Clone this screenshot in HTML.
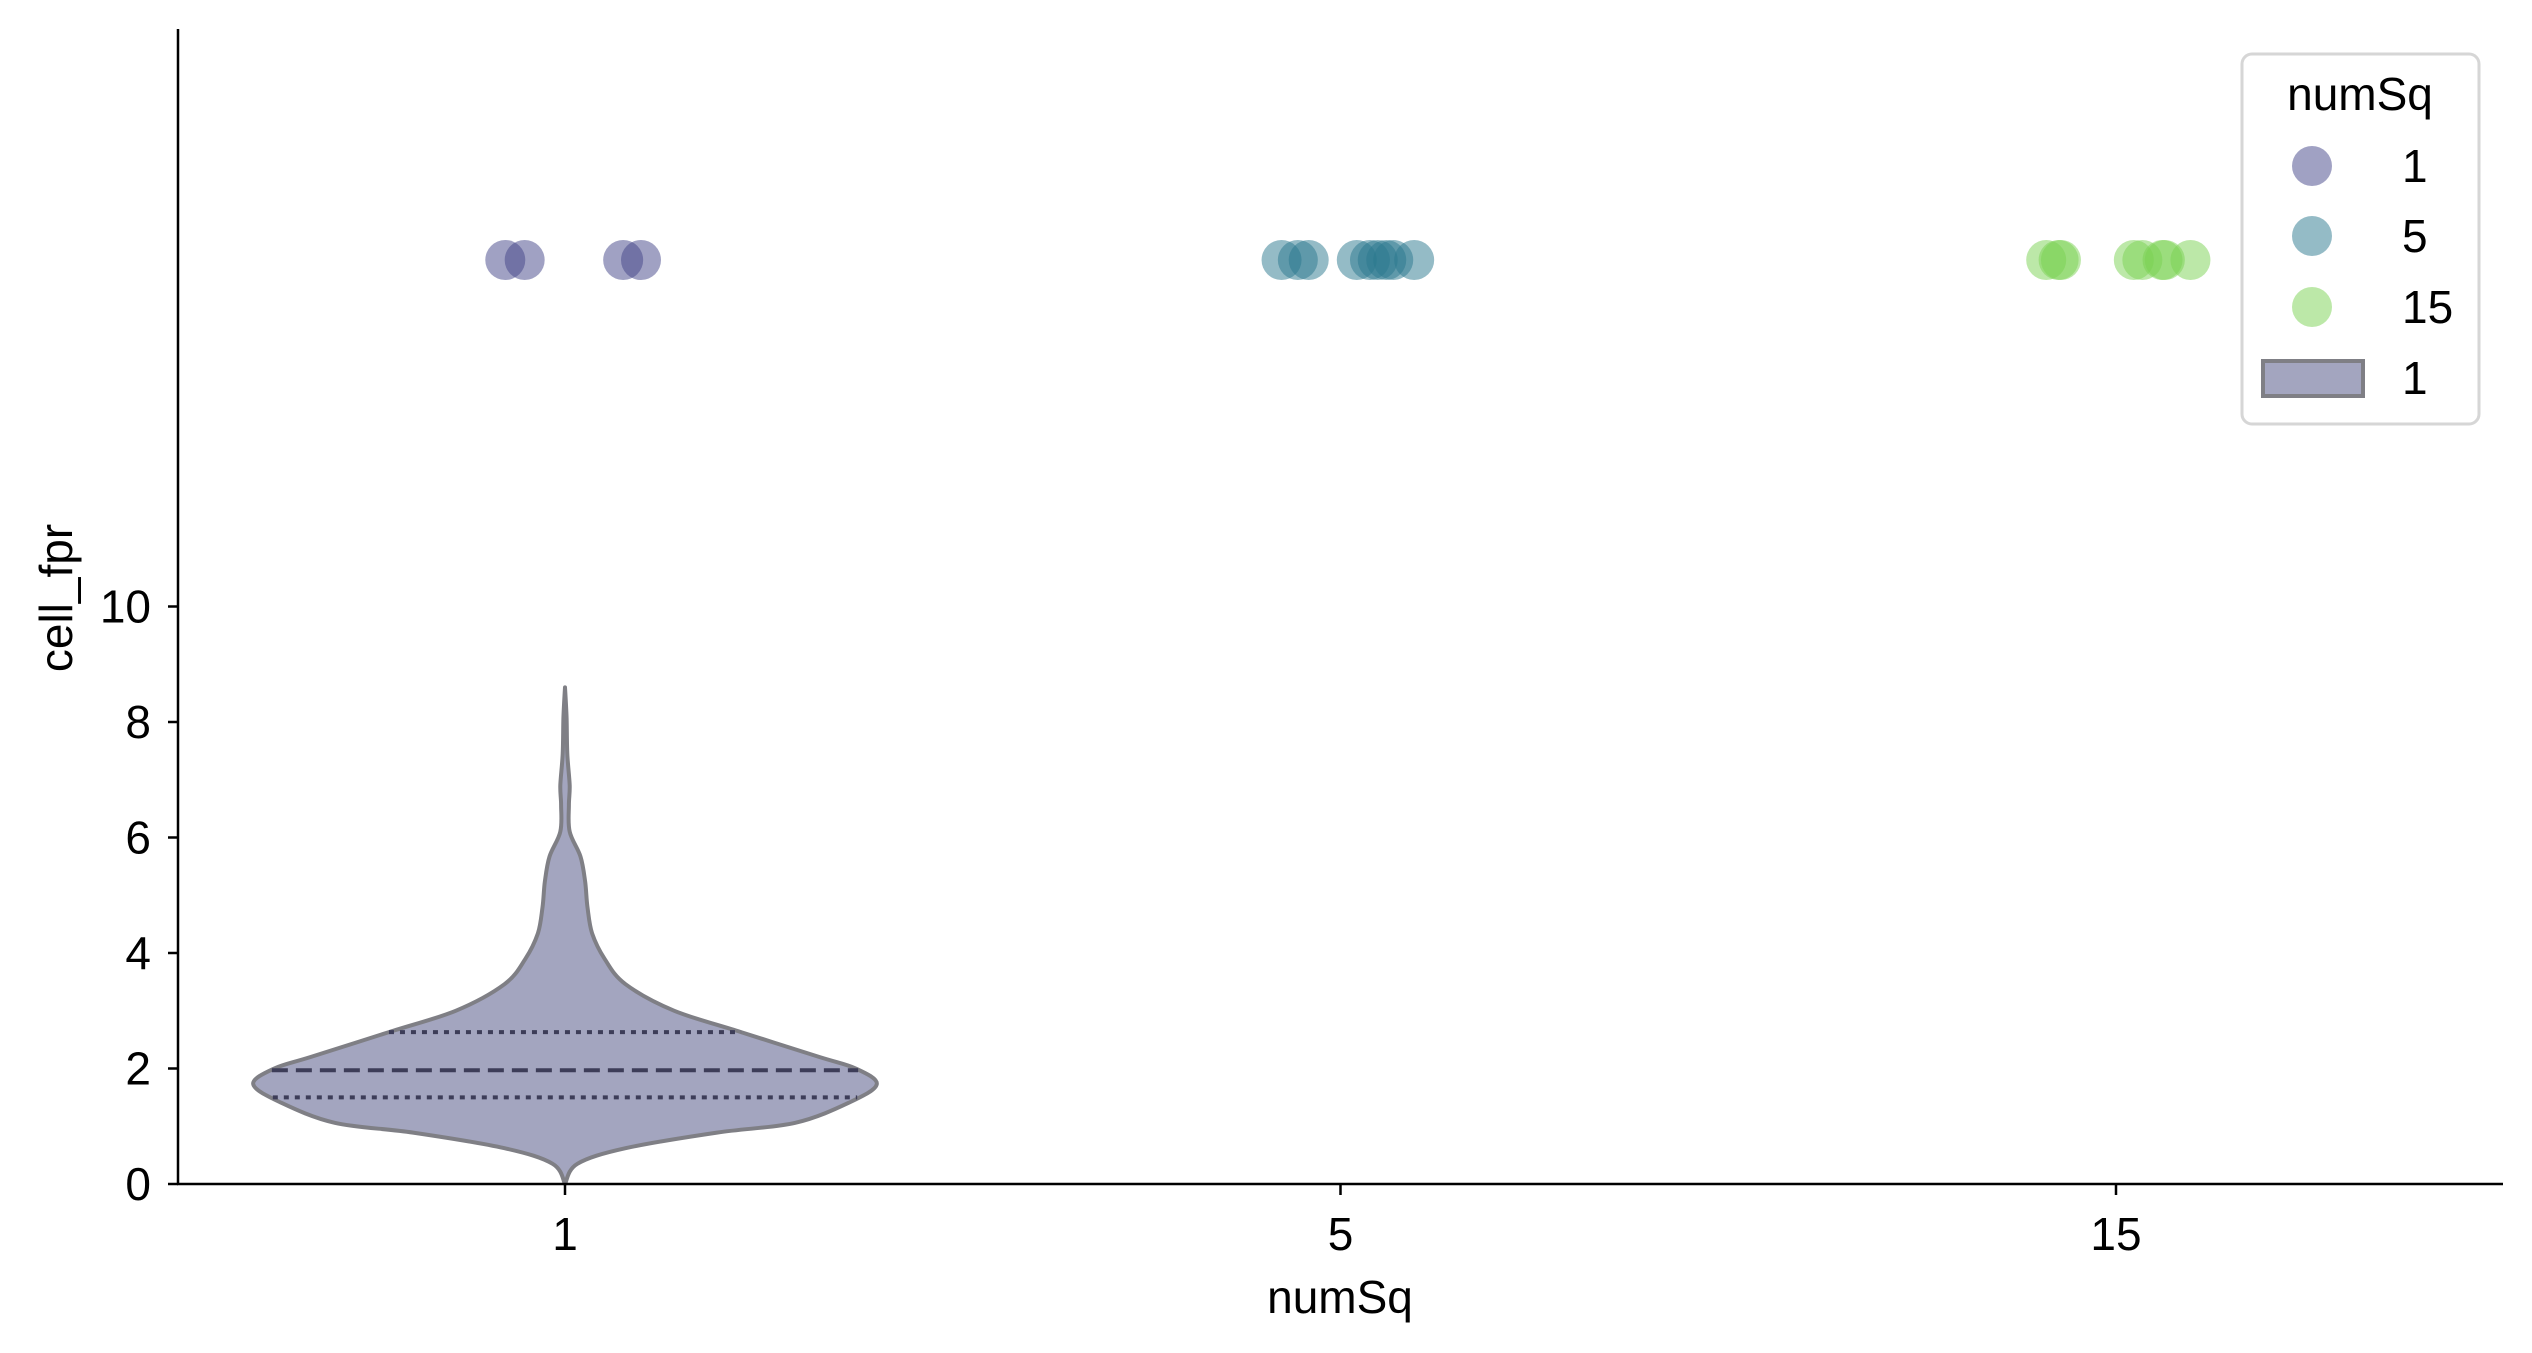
<!DOCTYPE html>
<html><head><meta charset="utf-8"><style>
html,body{margin:0;padding:0;background:#fff;}
svg{display:block;font-family:"Liberation Sans",Arial,sans-serif;}
</style></head><body>
<svg id="chart" width="2532" height="1353" viewBox="0 0 2532 1353" xmlns="http://www.w3.org/2000/svg">
<g id="violin"></g>
<g id="dots"></g>
<g id="axes"></g>
<g id="legend"></g>
</svg>
<script>
const categories = ["1","5","15"];
const dotOffsets1 = [-0.077,-0.052,0.075,0.098];
const dotOffsets5 = [-0.076,-0.055,-0.041,0.021,0.038,0.048,0.059,0.068,0.095];
const dotOffsets15 = [-0.090,-0.074,-0.071,0.023,0.034,0.060,0.063,0.096];
const dotValues1 = [16,16,16,16];
const dotValues5 = [16,16,16,16,16,16,16,16,16];
const dotValues15 = [16,16,16,16,16,16,16,16];
const violinValues = [0,0.35,0.62,0.89,1.06,1.42,1.73,2.0,2.2,2.63,3.0,3.46,3.9,4.34,4.79,5.23,5.67,6.1,6.56,6.9,7.45,8.07,8.6];
const violinHalfWidths = [0,0.016,0.078,0.196,0.297,0.368,0.402,0.375,0.328,0.227,0.141,0.078,0.051,0.035,0.029,0.026,0.020,0.006,0.005,0.006,0.003,0.002,0];
const quartiles = [1.5,1.97,2.63];
const yTicks = [0,2,4,6,8,10];
const palette = ["#414487","#2a788e","#7ad151"];

const NS="http://www.w3.org/2000/svg";
const L=178,R=2503,T=29,B=1184,yMax=20,FS=46;
const xs=i=>565+i*775.5;
const ys=v=>B-(v/yMax)*(B-T);
const wpx=w=>w*775.5;
function mk(tag,attrs,parent){const e=document.createElementNS(NS,tag);for(const k in attrs)e.setAttribute(k,attrs[k]);parent.appendChild(e);return e;}
function halfW(v){for(let i=0;i<violinValues.length-1;i++){if(v>=violinValues[i]&&v<=violinValues[i+1]){const t=(v-violinValues[i])/(violinValues[i+1]-violinValues[i]);return violinHalfWidths[i]+t*(violinHalfWidths[i+1]-violinHalfWidths[i]);}}return 0;}
function smooth(p){ // catmull-rom to bezier
  let d="M"+p[0][0].toFixed(1)+","+p[0][1].toFixed(1);
  for(let i=0;i<p.length-1;i++){
    const p0=p[Math.max(0,i-1)],p1=p[i],p2=p[i+1],p3=p[Math.min(p.length-1,i+2)];
    const c1=[p1[0]+(p2[0]-p0[0])/6,p1[1]+(p2[1]-p0[1])/6];
    const c2=[p2[0]-(p3[0]-p1[0])/6,p2[1]-(p3[1]-p1[1])/6];
    d+=" C"+c1.map(n=>n.toFixed(1)).join(",")+" "+c2.map(n=>n.toFixed(1)).join(",")+" "+p2.map(n=>n.toFixed(1)).join(",");
  }
  return d;
}

// violin
const vg=document.getElementById('violin');
let right=[],left=[];
for(let i=0;i<violinValues.length;i++)right.push([xs(0)+wpx(violinHalfWidths[i]),ys(violinValues[i])]);
for(let i=violinValues.length-1;i>=0;i--)left.push([xs(0)-wpx(violinHalfWidths[i]),ys(violinValues[i])]);
let d=smooth(right)+" "+smooth(left).replace(/^M/," L")+" Z";
const vp=mk('path',{d:d,fill:'#a3a5bf',stroke:'#7f7f85','stroke-width':4,'stroke-linejoin':'round'},vg);


quartiles.forEach((q,i)=>{
  const hw=wpx(halfW(q));
  const ln=mk('line',{x1:xs(0)-hw,x2:xs(0)+hw,y1:ys(q),y2:ys(q),stroke:'#3d3d58','stroke-width':4,'stroke-dasharray':i===1?'16,8':'5,6'},vg);
  
  
});

// dots
const dg=document.getElementById('dots');
[[dotOffsets1,dotValues1],[dotOffsets5,dotValues5],[dotOffsets15,dotValues15]].forEach((grp,gi)=>{
  grp[0].forEach((o,k)=>{
    const c=mk('circle',{cx:xs(gi+o),cy:ys(grp[1][k]),r:20,fill:palette[gi],'fill-opacity':0.5},dg);
    
    
  });
});

// axes
const ag=document.getElementById('axes');
const yl=mk('line',{x1:L,x2:L,y1:T,y2:B+1,stroke:'#000','stroke-width':2.5},ag);

const xl=mk('line',{x1:L-1,x2:R,y1:B,y2:B,stroke:'#000','stroke-width':2.5},ag);

yTicks.forEach(v=>{
  const tk=mk('line',{x1:L-10,x2:L,y1:ys(v),y2:ys(v),stroke:'#000','stroke-width':2.5},ag);
  
  const t=mk('text',{x:L-27,y:ys(v)+16,'text-anchor':'end','font-size':FS},ag);
  t.textContent=v;
  
});
categories.forEach((c,i)=>{
  const tk=mk('line',{x1:xs(i),x2:xs(i),y1:B,y2:B+11,stroke:'#000','stroke-width':2.5},ag);
  
  const t=mk('text',{x:xs(i),y:B+66,'text-anchor':'middle','font-size':FS},ag);
  t.textContent=c;
  
});
const xt=mk('text',{x:1340,y:1313,'text-anchor':'middle','font-size':FS},ag);
xt.textContent='numSq';
const yt=mk('text',{x:0,y:0,'text-anchor':'middle','font-size':FS,transform:'translate(72,598) rotate(-90)'},ag);
yt.textContent='cell_fpr';

// legend
const lg=document.getElementById('legend');
const lb=mk('rect',{x:2242,y:54,width:237,height:370,rx:10,fill:'#fff','fill-opacity':0.8,stroke:'#d6d6d6','stroke-width':3},lg);

const ltt=mk('text',{x:2360,y:110,'text-anchor':'middle','font-size':FS},lg);
ltt.textContent='numSq';
const legY=[166,236,307];
categories.forEach((c,i)=>{
  const m=mk('circle',{cx:2312,cy:legY[i],r:20,fill:palette[i],'fill-opacity':0.5},lg);
  
  const t=mk('text',{x:2402,y:legY[i]+16,'font-size':FS},lg);
  t.textContent=c;
});
const lr=mk('rect',{x:2263,y:361,width:100,height:35,fill:'#a3a5bf',stroke:'#7f7f85','stroke-width':4},lg);

const lt=mk('text',{x:2402,y:394,'font-size':FS},lg);
lt.textContent='1';
</script>
</body></html>
